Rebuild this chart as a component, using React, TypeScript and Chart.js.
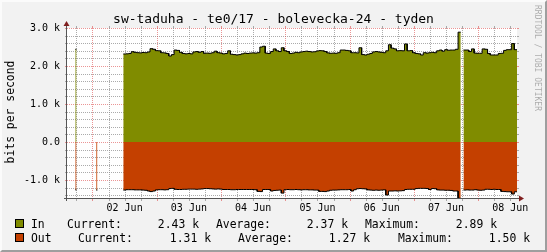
import React, { useEffect, useRef } from "react";
import { Chart, registerables } from "chart.js";

Chart.register(...registerables);

const MONO = "'DejaVu Sans Mono', monospace";

const TITLE = "sw-taduha - te0/17 - bolevecka-24 - tyden";
const Y_TITLE = "bits per second";
const WATERMARK = "RRDTOOL / TOBI OETIKER";

// x axis: hours since 01 Jun 00:00
const X_MIN = 14.5;
const X_MAX = 182.5;
const DAY_LABELS = ["02 Jun", "03 Jun", "04 Jun", "05 Jun", "06 Jun", "07 Jun", "08 Jun"];
const DAY_LABEL_HOURS = [36, 60, 84, 108, 132, 156, 180];
const MINOR_X_HOURS = [18, 24, 30, 36, 42, 48, 54, 60, 66, 72, 78, 84, 90, 96, 102, 108, 114, 120, 126, 132, 138, 144, 150, 156, 162, 168, 174, 180];
const MAJOR_X_HOURS = [24, 48, 72, 96, 120, 144, 168];

const Y_MIN = -1500;
const Y_MAX = 3000;
const Y_TICKS = [-1000, 0, 1000, 2000, 3000];
const Y_TICK_LABELS = ["-1.0 k", "0.0", "1.0 k", "2.0 k", "3.0 k"];
const Y_MINOR = [-1400, -1200, -1000, -800, -600, -400, -200, 0, 200, 400, 600, 800, 1000, 1200, 1400, 1600, 1800, 2000, 2200, 2400, 2600, 2800, 3000];

const SERIES_NAMES = ["In", "Out"];
const SERIES_COLORS = ["#808c00", "#c44000"];
const LEGEND_CURRENT = ["2.43 k", "1.31 k"];
const LEGEND_AVERAGE = ["2.37 k", "1.27 k"];
const LEGEND_MAXIMUM = ["2.89 k", "1.50 k"];

// isolated early samples (hours) before the continuous record
const EARLY_HOURS = [17.6, 25.4];
const EARLY_IN = [2440, null];
const EARLY_OUT = [1260, 1265];
const EARLY_WIDTH = 0.45;

// continuous record: one sample per hour starting at MAIN_START
const MAIN_START = 35.5;
const MAIN_STEP = 1;

const IN_VALUES: (number | null)[] = [
  2316, 2320, 2330, 2377, 2360, 2350, 2345, 2355, 2350, 2370,
  2456, 2440, 2404, 2400, 2350, 2345, 2330, 2263, 2300, 2420,
  2410, 2360, 2330, 2320, 2330, 2320, 2370, 2380, 2360, 2380,
  2335, 2340, 2335, 2350, 2390, 2350, 2340, 2320, 2330, 2400,
  2310, 2300, 2290, 2300, 2320, 2340, 2330, 2340, 2345, 2340,
  2350, 2500, 2520, 2340, 2330, 2380, 2450, 2400, 2380, 2480,
  2400, 2380, 2330, 2340, 2360, 2350, 2370, 2380, 2390, 2380,
  2370, 2375, 2395, 2405, 2400, 2380, 2345, 2335, 2340, 2335,
  2350, 2420, 2420, 2410, 2400, 2350, 2350, 2345, 2480, 2300,
  2290, 2310, 2330, 2370, 2380, 2370, 2360, 2350, 2400, 2560,
  2470, 2450, 2400, 2405, 2400, 2580, 2400, 2405, 2350, 2330,
  2320, 2290, 2350, 2340, 2350, 2360, 2350, 2400, 2420, 2390,
  2430, 2415, 2420, 2420, 2440, 2890, null, 2420, 2420, 2380,
  2450, 2340, 2335, 2335, 2450, 2440, 2330, 2290, 2290, 2290,
  2330, 2335, 2410, 2430, 2430, 2590, 2430,
];

const OUT_VALUES: (number | null)[] = [
  1265, 1255, 1255, 1255, 1260, 1260, 1260, 1265, 1270, 1290,
  1305, 1290, 1260, 1255, 1255, 1260, 1255, 1225, 1220, 1245,
  1250, 1250, 1245, 1245, 1240, 1240, 1240, 1245, 1240, 1235,
  1225, 1225, 1230, 1235, 1240, 1235, 1240, 1250, 1250, 1250,
  1255, 1255, 1250, 1250, 1250, 1250, 1250, 1250, 1250, 1255,
  1300, 1305, 1250, 1250, 1250, 1290, 1275, 1270, 1265, 1345,
  1255, 1250, 1255, 1255, 1250, 1255, 1260, 1255, 1255, 1260,
  1260, 1265, 1265, 1300, 1300, 1305, 1290, 1270, 1265, 1265,
  1260, 1255, 1255, 1255, 1250, 1290, 1255, 1230, 1225, 1230,
  1235, 1260, 1265, 1270, 1265, 1270, 1265, 1260, 1395, 1290,
  1290, 1285, 1290, 1285, 1280, 1250, 1245, 1245, 1245, 1225,
  1220, 1220, 1220, 1225, 1250, 1225, 1230, 1260, 1265, 1265,
  1270, 1270, 1275, 1290, 1290, 1480, null, 1265, 1260, 1265,
  1265, 1255, 1265, 1270, 1265, 1245, 1245, 1250, 1245, 1250,
  1250, 1300, 1305, 1310, 1310, 1370, 1310,
];

const BG = "#f2f2f2";
const SHADE_A = "#fbfbfb";
const SHADE_B = "#9e9e9e";
const GRID_MINOR = "rgba(143,143,143,0.75)";
const GRID_MAJOR = "rgba(222,79,79,0.6)";
const ARROW = "#801f1f";
const AXIS = "#555555";

type Pt = { x: number; y: number | null };

function buildPoints(early: (number | null)[], values: (number | null)[], sign: number): Pt[] {
  const pts: Pt[] = [];
  EARLY_HOURS.forEach((h, k) => {
    const v = early[k];
    if (v != null) {
      pts.push({ x: h, y: sign * v }, { x: h + EARLY_WIDTH, y: sign * v });
    }
    pts.push({ x: h + EARLY_WIDTH + 0.05, y: null });
  });
  values.forEach((v, i) => {
    const t = MAIN_START + i * MAIN_STEP;
    if (v == null) pts.push({ x: t + MAIN_STEP / 2, y: null });
    else pts.push({ x: t, y: sign * v }, { x: t + MAIN_STEP, y: sign * v });
  });
  return pts;
}

const rrdPlugin = {
  id: "rrdDecor",
  beforeDraw(chart: any) {
    const { ctx, width: W, height: H, chartArea: a } = chart;
    ctx.save();
    ctx.fillStyle = BG;
    ctx.fillRect(0, 0, W, H);
    // bevel
    ctx.fillStyle = SHADE_A;
    ctx.beginPath();
    ctx.moveTo(0, 0); ctx.lineTo(W, 0); ctx.lineTo(W - 2, 2); ctx.lineTo(2, 2); ctx.lineTo(2, H - 2); ctx.lineTo(0, H);
    ctx.closePath(); ctx.fill();
    ctx.fillStyle = SHADE_B;
    ctx.beginPath();
    ctx.moveTo(W, 0); ctx.lineTo(W, H); ctx.lineTo(0, H); ctx.lineTo(2, H - 2); ctx.lineTo(W - 2, H - 2); ctx.lineTo(W - 2, 2);
    ctx.closePath(); ctx.fill();
    // plot canvas
    ctx.fillStyle = "#ffffff";
    ctx.fillRect(a.left, a.top, a.right - a.left, a.bottom - a.top);

    // title
    ctx.fillStyle = "#000";
    ctx.font = `13px ${MONO}`;
    ctx.textAlign = "center";
    ctx.textBaseline = "alphabetic";
    ctx.fillText(TITLE, W / 2, 23);

    // y title
    ctx.save();
    ctx.translate(11, 112);
    ctx.rotate(-Math.PI / 2);
    ctx.font = `11.4px ${MONO}`;
    ctx.textAlign = "center";
    ctx.textBaseline = "middle";
    ctx.fillText(Y_TITLE, 0, 0);
    ctx.restore();

    // watermark
    ctx.save();
    ctx.translate(537.5, 5);
    ctx.rotate(Math.PI / 2);
    ctx.font = `8px ${MONO}`;
    ctx.fillStyle = "rgba(0,0,0,0.3)";
    ctx.textAlign = "left";
    ctx.textBaseline = "middle";
    ctx.fillText(WATERMARK, 0, 0);
    ctx.restore();

    // legend
    const rows = [228, 242];
    const swatchTop = [219, 233];
    const cols = [
      [31, 67, 199, 216, 348, 365, 497],
      [31, 78, 211, 238, 370, 398, 530],
    ];
    ctx.font = `11.4px ${MONO}`;
    ctx.textBaseline = "alphabetic";
    SERIES_NAMES.forEach((name, r) => {
      ctx.fillStyle = SERIES_COLORS[r];
      ctx.fillRect(15, swatchTop[r], 9, 9);
      ctx.strokeStyle = "#000";
      ctx.lineWidth = 1;
      ctx.strokeRect(15.5, swatchTop[r] + 0.5, 8, 8);
      ctx.fillStyle = "#000";
      const c = cols[r];
      const y = rows[r];
      ctx.textAlign = "left";
      ctx.fillText(name, c[0], y);
      ctx.fillText("Current:", c[1], y);
      ctx.textAlign = "right";
      ctx.fillText(LEGEND_CURRENT[r], c[2], y);
      ctx.textAlign = "left";
      ctx.fillText("Average:", c[3], y);
      ctx.textAlign = "right";
      ctx.fillText(LEGEND_AVERAGE[r], c[4], y);
      ctx.textAlign = "left";
      ctx.fillText("Maximum:", c[5], y);
      ctx.textAlign = "right";
      ctx.fillText(LEGEND_MAXIMUM[r], c[6], y);
    });
    ctx.restore();
  },
  beforeDatasetsDraw(chart: any) {
    const { ctx, chartArea: a, scales } = chart;
    const xs = scales.x;
    const ys = scales.y;
    ctx.save();
    ctx.lineWidth = 1;
    const line = (x1: number, y1: number, x2: number, y2: number) => {
      ctx.beginPath(); ctx.moveTo(x1, y1); ctx.lineTo(x2, y2); ctx.stroke();
    };
    Y_MINOR.forEach((v) => {
      const major = Y_TICKS.includes(v);
      const y = Math.round(ys.getPixelForValue(v)) + 0.5;
      ctx.strokeStyle = major ? GRID_MAJOR : GRID_MINOR;
      ctx.setLineDash([]);
      line(a.left - 2, y, a.left, y);
      line(a.right, y, a.right + 2, y);
      ctx.setLineDash([1, 1]);
      line(a.left, y, a.right, y);
    });
    MINOR_X_HOURS.forEach((h) => {
      const major = MAJOR_X_HOURS.includes(h);
      const x = Math.round(xs.getPixelForValue(h)) + 0.5;
      ctx.strokeStyle = major ? GRID_MAJOR : GRID_MINOR;
      ctx.setLineDash([]);
      line(x, a.bottom, x, a.bottom + 2);
      line(x, a.top - 2, x, a.top);
      ctx.setLineDash([1, 1]);
      line(x, a.top, x, a.bottom);
    });
    ctx.restore();
  },
  afterDatasetsDraw(chart: any) {
    const { ctx, chartArea: a } = chart;
    ctx.save();
    ctx.lineWidth = 1;
    ctx.strokeStyle = AXIS;
    const yAxisX = a.left - 0.5;
    const xAxisY = a.bottom - 0.5;
    ctx.beginPath();
    ctx.moveTo(a.left - 3, xAxisY); ctx.lineTo(a.right + 3, xAxisY);
    ctx.moveTo(yAxisX, a.bottom + 2); ctx.lineTo(yAxisX, a.top - 4);
    ctx.stroke();
    ctx.fillStyle = ARROW;
    ctx.beginPath();
    ctx.moveTo(a.right + 2, xAxisY - 3); ctx.lineTo(a.right + 7, xAxisY); ctx.lineTo(a.right + 2, xAxisY + 3);
    ctx.closePath(); ctx.fill();
    ctx.beginPath();
    ctx.moveTo(yAxisX - 3, a.top - 2); ctx.lineTo(yAxisX, a.top - 7); ctx.lineTo(yAxisX + 3, a.top - 2);
    ctx.closePath(); ctx.fill();
    ctx.restore();
  },
};

export default function App() {
  const ref = useRef<HTMLCanvasElement>(null);
  useEffect(() => {
    document.body.style.margin = "0";
    const canvas = ref.current!;
    const chart = new Chart(canvas, {
      type: "line",
      data: {
        datasets: [
          {
            label: SERIES_NAMES[0],
            data: buildPoints(EARLY_IN, IN_VALUES, 1) as any,
            borderColor: "#000",
            borderWidth: 1,
            backgroundColor: SERIES_COLORS[0],
            fill: "origin",
            pointRadius: 0,
            tension: 0,
            spanGaps: false,
          },
          {
            label: SERIES_NAMES[1],
            data: buildPoints(EARLY_OUT, OUT_VALUES, -1) as any,
            borderColor: "#000",
            borderWidth: 1,
            backgroundColor: SERIES_COLORS[1],
            fill: "origin",
            pointRadius: 0,
            tension: 0,
            spanGaps: false,
          },
        ],
      },
      options: {
        animation: false,
        responsive: false,
        devicePixelRatio: 1,
        events: [],
        layout: { padding: { top: 28, right: 30, left: 0, bottom: 0 } },
        plugins: { legend: { display: false }, tooltip: { enabled: false }, title: { display: false } },
        scales: {
          x: {
            type: "linear",
            min: X_MIN,
            max: X_MAX,
            grid: { display: false, drawTicks: false },
            border: { display: false },
            afterBuildTicks: (s: any) => {
              s.ticks = DAY_LABEL_HOURS.map((v) => ({ value: v }));
            },
            afterFit: (s: any) => {
              s.height = 53;
            },
            ticks: {
              autoSkip: false,
              maxRotation: 0,
              minRotation: 0,
              padding: 3,
              color: "#000",
              font: { family: MONO, size: 10 },
              callback: (v: any) => DAY_LABELS[DAY_LABEL_HOURS.indexOf(Number(v))],
            },
          },
          y: {
            type: "linear",
            min: Y_MIN,
            max: Y_MAX,
            grid: { display: false, drawTicks: false },
            border: { display: false },
            afterBuildTicks: (s: any) => {
              s.ticks = Y_TICKS.map((v) => ({ value: v }));
            },
            afterFit: (s: any) => {
              s.width = 67;
            },
            ticks: {
              autoSkip: false,
              padding: 7,
              color: "#000",
              font: { family: MONO, size: 10 },
              callback: (v: any) => Y_TICK_LABELS[Y_TICKS.indexOf(Number(v))],
            },
          },
        },
      } as any,
      plugins: [rrdPlugin],
    });
    return () => chart.destroy();
  }, []);
  return (
    <div style={{ position: "fixed", left: 0, top: 0, width: 547, height: 252 }}>
      <canvas ref={ref} width={547} height={252} style={{ display: "block", width: 547, height: 252 }} />
    </div>
  );
}
